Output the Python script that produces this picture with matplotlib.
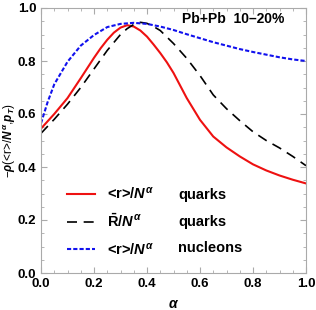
import numpy as np
import matplotlib
matplotlib.use("Agg")
import matplotlib.pyplot as plt
from matplotlib.ticker import MultipleLocator

plt.rcParams['font.family'] = ['Liberation Sans', 'DejaVu Sans']
plt.rcParams['font.weight'] = 'bold'
plt.rcParams['mathtext.fontset'] = 'custom'
plt.rcParams['mathtext.rm'] = 'Liberation Sans:bold'
plt.rcParams['mathtext.bf'] = 'Liberation Sans:bold'
plt.rcParams['mathtext.it'] = 'Liberation Sans:italic:bold'

# values
red_alpha = [0.0, 0.05, 0.1, 0.15, 0.2, 0.225, 0.25, 0.275, 0.3, 0.325, 0.35, 0.375, 0.4,
             0.425, 0.45, 0.475, 0.5, 0.55, 0.6, 0.65, 0.7, 0.75, 0.8, 0.85, 0.9, 0.95, 1.0]
red_quarks = [0.545, 0.60, 0.66, 0.735, 0.812, 0.848, 0.88, 0.907, 0.926, 0.935, 0.930,
              0.915, 0.892, 0.862, 0.83, 0.795, 0.755, 0.66, 0.578, 0.515, 0.474, 0.44,
              0.41, 0.387, 0.368, 0.352, 0.338]

black_alpha = [0.0, 0.05, 0.1, 0.15, 0.2, 0.25, 0.3, 0.325, 0.35, 0.375, 0.4, 0.425, 0.45,
               0.5, 0.55, 0.6, 0.65, 0.7, 0.75, 0.8, 0.85, 0.9, 0.95, 1.0]
black_quarks = [0.527, 0.58, 0.637, 0.70, 0.77, 0.84, 0.90, 0.922, 0.938, 0.946, 0.942,
                0.93, 0.915, 0.866, 0.81, 0.745, 0.672, 0.62, 0.575, 0.533, 0.50, 0.472,
                0.44, 0.405]

blue_alpha = [0.0, 0.025, 0.05, 0.1, 0.15, 0.2, 0.25, 0.3, 0.35, 0.4, 0.45, 0.5, 0.55,
              0.6, 0.65, 0.7, 0.75, 0.8, 0.85, 0.9, 0.95, 1.0]
blue_nucleons = [0.565, 0.645, 0.712, 0.797, 0.858, 0.898, 0.928, 0.94, 0.944, 0.94, 0.93,
                 0.917, 0.901, 0.886, 0.871, 0.858, 0.845, 0.834, 0.824, 0.814, 0.806, 0.80]

labels = ['<r>/$N^{\\alpha}$', '$\\bar{\\mathrm{R}}$/$N^{\\alpha}$', '<r>/$N^{\\alpha}$']
kinds = ['quarks', 'quarks', 'nucleons']

fig = plt.figure(figsize=(3.16, 3.10), dpi=100)
ax = fig.add_axes([41/316, 37/310, 265/316, 265/310])

ax.plot(red_alpha, red_quarks, color='#ee1111', lw=1.5, label=labels[0])
ax.plot(black_alpha, black_quarks, color='black', lw=1.2, dashes=(6, 4), label=labels[1])
ax.plot(blue_alpha, blue_nucleons, color='#1111ee', lw=1.5, dashes=(2, 1), label=labels[2])

ax.set_xlim(0, 1)
ax.set_ylim(0, 1)
ax.xaxis.set_major_locator(MultipleLocator(0.2))
ax.yaxis.set_major_locator(MultipleLocator(0.2))
ax.xaxis.set_minor_locator(MultipleLocator(0.05))
ax.yaxis.set_minor_locator(MultipleLocator(0.05))
ax.tick_params(which='both', direction='in', top=True, right=True, color='#aaaaaa',
               labelsize=9.5)
ax.tick_params(which='major', length=4.5, width=0.8)
ax.tick_params(which='minor', length=2.5, width=0.6)
for s in ax.spines.values():
    s.set_color('#aaaaaa')
ax.xaxis.set_major_formatter(plt.FuncFormatter(lambda v, p: f"{v:.1f}"))
ax.yaxis.set_major_formatter(plt.FuncFormatter(lambda v, p: f"{v:.1f}"))
for t in ax.get_xticklabels() + ax.get_yticklabels():
    t.set_fontweight('bold')

ax.set_xlabel('$\\alpha$', fontsize=10, labelpad=5)
ax.set_ylabel('\u2212$\\rho$(<r>/$N^{\\alpha}$,$p_T$)', fontsize=8.5)
ax.yaxis.set_label_coords(-0.088, 0.5)

ax.text(0.725, 0.958, 'Pb+Pb  10\u201320%', transform=ax.transAxes, ha='center', va='center',
        fontsize=10, fontweight='bold')

leg = ax.legend(loc='center left', bbox_to_anchor=(0.098, 0.194), frameon=False,
                fontsize=10.5, handlelength=1.92, handletextpad=0.82, labelspacing=0.75,
                borderpad=0, borderaxespad=0)
for i, k in enumerate(kinds):
    ax.text(0.517, [0.294, 0.194, 0.093][i], k, transform=ax.transAxes, ha='left',
            va='center', fontsize=10.5, fontweight='bold')

fig.savefig('out.png', dpi=100)
